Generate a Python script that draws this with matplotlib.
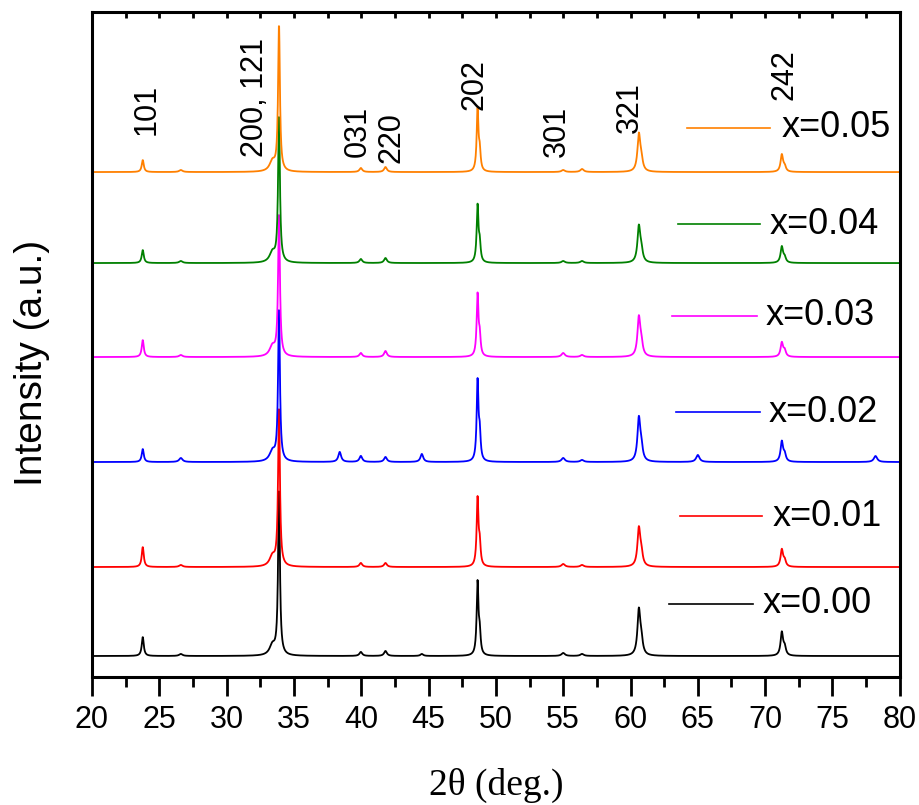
import numpy as np
import matplotlib
matplotlib.use("Agg")
import matplotlib.pyplot as plt
from matplotlib.ticker import MultipleLocator

plt.rcParams['font.family'] = ['Liberation Sans', 'DejaVu Sans']

# peak positions (2theta, deg) and widths (FWHM)
peak_pos = [23.77, 26.6, 33.4, 33.89, 38.4, 39.97, 41.8, 44.5, 48.64, 48.8,
            55.0, 56.4, 60.62, 60.8, 65.0, 71.24, 71.45, 78.2]
peak_fwhm = [0.18, 0.3, 0.5, 0.16, 0.25, 0.25, 0.25, 0.25, 0.16, 0.16,
             0.3, 0.3, 0.25, 0.25, 0.3, 0.22, 0.22, 0.3]

# samples, bottom to top
labels = ["x=0.00", "x=0.01", "x=0.02", "x=0.03", "x=0.04", "x=0.05"]
colors = ["black", "#ff0000", "#0000ff", "#ff00ff", "#008000", "#ff8000"]
offsets = [21, 110, 215, 320, 414, 505]
heights = [
    [19, 2, 10, 165, 0, 4, 5, 2, 72, 20, 3, 2, 44, 14, 0, 23, 8, 0],
    [20, 2, 10, 158, 0, 4, 4, 0, 67, 20, 3, 2, 37, 12, 0, 17, 6, 0],
    [13, 4, 10, 152, 10, 6, 5, 8, 79, 25, 4, 2, 42, 13, 7, 20, 7, 6],
    [17, 2, 10, 142, 0, 4, 6, 0, 61, 18, 4, 2, 38, 12, 0, 14, 6, 0],
    [13, 2, 10, 146, 0, 4, 5, 0, 56, 17, 2, 2, 35, 11, 0, 16, 5, 0],
    [12, 2, 10, 146, 0, 4, 5, 0, 61, 18, 2, 3, 36, 11, 0, 17, 5, 0],
]

# hkl labels
hkl_text = ["101", "200, 121", "031", "220", "202", "301", "321", "242"]
hkl_x = [24.08, 32.1, 39.75, 42.28, 48.44, 54.53, 59.95, 71.46]
hkl_y = [542, 520, 520, 514, 567, 520, 544, 577]

# legend entries (axes fraction): line start, line end, y, text x
leg_pos = [(0.714, 0.818, 0.110, 0.830),
           (0.728, 0.829, 0.242, 0.842),
           (0.723, 0.827, 0.398, 0.838),
           (0.718, 0.823, 0.543, 0.834),
           (0.725, 0.827, 0.681, 0.839),
           (0.736, 0.839, 0.826, 0.854)]

tth = np.arange(20, 80.001, 0.02)


def pattern(h):
    y = np.zeros_like(tth)
    for p, w, a in zip(peak_pos, peak_fwhm, h):
        y += a / (1 + ((tth - p) / (w / 2)) ** 2)
    return y


fig = plt.figure(figsize=(9.2, 8.05), dpi=100)
ax = fig.add_axes([0.1, 0.159, 0.878, 0.826])

for lab, c, off, h, lp in zip(labels, colors, offsets, heights, leg_pos):
    ax.plot(tth, off + pattern(h), color=c, lw=1.3)
    ax.plot([lp[0], lp[1]], [lp[2], lp[2]], color=c, lw=1.2, transform=ax.transAxes)
    ax.text(lp[3], lp[2], lab, transform=ax.transAxes, fontsize=26,
            va='center', ha='left')

for t, x, y in zip(hkl_text, hkl_x, hkl_y):
    ax.text(x, y, t, rotation=90, fontsize=22, ha='center', va='bottom')

ax.set_xlim(20, 80)
ax.set_ylim(0, 665)
ax.xaxis.set_major_locator(MultipleLocator(5))
ax.xaxis.set_minor_locator(MultipleLocator(2.5))
ax.tick_params(axis='x', which='major', direction='out', length=14, width=2,
               labelsize=22, pad=6)
ax.tick_params(axis='x', which='minor', direction='out', length=7, width=2)
ax.tick_params(axis='y', left=False, labelleft=False)
ax.tick_params(axis='x', which='both', top=True)
for s in ax.spines.values():
    s.set_linewidth(2.2)

# top ticks point inward, small
for t in ax.xaxis.get_major_ticks() + ax.xaxis.get_minor_ticks():
    t.tick2line.set_markersize(4)
    t.tick2line.set_marker(3)

ax.set_ylabel("Intensity (a.u.)", fontsize=28)
ax.yaxis.set_label_coords(-0.052, 0.472)
ax.set_xlabel("2\u03b8 (deg.)", fontsize=27, family=['Liberation Serif', 'DejaVu Serif'],
              labelpad=24)

fig.savefig("out.png", dpi=100)
